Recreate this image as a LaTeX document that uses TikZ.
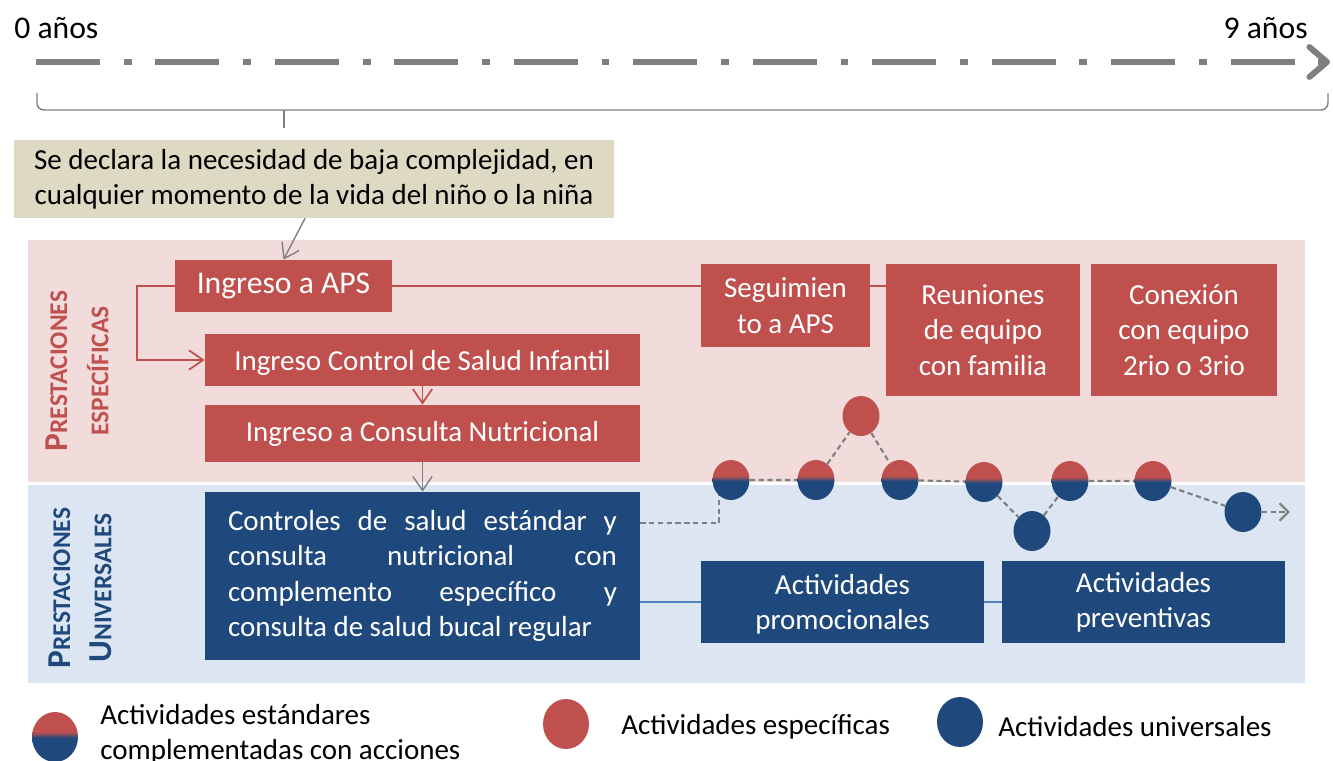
\documentclass[tikz,border=0pt]{standalone}
\usepackage{fontspec}
\setmainfont{Carlito}
\usetikzlibrary{arrows.meta,positioning,backgrounds,shapes.geometric}
\definecolor{espc}{HTML}{C0504D}
\definecolor{univc}{HTML}{1F497D}
\definecolor{espbg}{HTML}{F2DCDB}
\definecolor{univbg}{HTML}{DCE6F2}
\definecolor{notec}{HTML}{DDD9C3}
\definecolor{timec}{HTML}{7F7F7F}
\definecolor{linkc}{HTML}{4F81BD}
\pgfdeclareverticalshading{mixshade}{100bp}{color(0bp)=(univc); color(49bp)=(univc); color(55bp)=(espc); color(100bp)=(espc)}
\newcommand{\fsmain}{\fontsize{16.5}{20.1}\selectfont}
\newcommand{\fsbig}{\fontsize{18}{22}\selectfont}
\newcommand{\jline}[1]{\makebox[7.78cm][s]{#1}}
\newcommand{\smcap}[2]{{\fontsize{19}{23.5}\selectfont #1}#2}

\begin{document}
\begin{tikzpicture}[x=0.02cm, y=-0.02cm,
  espbox/.style={fill=espc, text=white, font=\fsmain, inner sep=0pt, align=center},
  univbox/.style={fill=univc, text=white, font=\fsmain, inner sep=0pt, align=center},
  mixdot/.style={ellipse, shading=mixshade, minimum width=0.74cm, minimum height=0.8cm, inner sep=0pt},
  espdot/.style={ellipse, fill=espc, minimum width=0.74cm, minimum height=0.8cm, inner sep=0pt},
  univdot/.style={ellipse, fill=univc, minimum width=0.74cm, minimum height=0.8cm, inner sep=0pt},
  lbl/.style={rotate=90, font=\bfseries\fontsize{14.5}{23.5}\selectfont, align=center, inner sep=0pt},
  espline/.style={espc, line width=1pt},
  esparr/.style={espline, -{Straight Barb[length=8pt,width=11pt]}},
  grayarr/.style={timec, line width=0.8pt, -{Straight Barb[length=8pt,width=11pt]}},
  univline/.style={linkc, line width=1.2pt},
  dashc/.style={timec, line width=1.2pt, dash pattern=on 3pt off 2pt}]
  \useasboundingbox (0,0) rectangle (1333,761);
  \begin{scope}[on background layer]
    \fill[espbg] (28,240) rectangle (1305,482);
    \fill[univbg] (28,485) rectangle (1305,683);
  \end{scope}
  % timeline
  \node[font=\fsbig, anchor=west, inner sep=0pt] (age0) at (14,28) {0 años};
  \node[font=\fsbig, anchor=east, inner sep=0pt] (age9) at (1308,28) {9 años};
  \coordinate (tstart) at (36,62);
  \coordinate (tend) at (1330,62);
  \draw[timec, line width=3.4pt, dash pattern=on 36.3pt off 13.6pt on 4.5pt off 13.6pt,
    -{Straight Barb[length=10pt,width=17pt,round]}] (tstart) -- (tend);
  \draw[timec, line width=0.8pt, rounded corners=4pt] (37,93) -- (37,110) -- (1328,110) -- (1328,93);
  \draw[timec, line width=0.8pt] (284,110) -- (284,128);
  \node[fill=notec, font=\fsmain, align=center, inner sep=0pt, minimum width=12cm, minimum height=1.56cm]
    (note) at (314,179) {Se declara la necesidad de baja complejidad, en\\cualquier momento de la vida del niño o la niña};
  % lane labels
  \node[lbl, text=espc] (lblesp) at (77,371) {\smcap{P}{RESTACIONES}\\ESPECÍFICAS};
  \node[lbl, text=univc] (lbluni) at (80,588) {\smcap{P}{RESTACIONES}\\\smcap{U}{NIVERSALES}};
  % specific boxes
  \node[espbox, font=\fsbig, minimum width=4.34cm, minimum height=1.04cm] (aps) at (283.5,286) {Ingreso a APS};
  \node[espbox, text depth=0pt, minimum width=8.7cm, minimum height=1.04cm] (ctrl) at (422.5,360) {Ingreso Control de Salud Infantil};
  \node[espbox, minimum width=8.7cm, minimum height=1.14cm] (cons) at (422.5,433.5) {Ingreso a Consulta Nutricional};
  \node[espbox, minimum width=3.38cm, minimum height=1.66cm] (seg) at (785.5,305.5) {Seguimien\\to a APS};
  \node[espbox, minimum width=3.88cm, minimum height=2.64cm] (reu) at (983,330) {Reuniones\\de equipo\\con familia};
  \node[espbox, minimum width=3.72cm, minimum height=2.64cm] (con) at (1184,330) {Conexión\\con equipo\\2rio o 3rio};
  % universal boxes
  \node[univbox, align=left, minimum width=8.7cm, minimum height=3.36cm] (ctrlsal) at (422.5,576)
    {\jline{Controles de salud estándar y}\\\jline{consulta nutricional con}\\\jline{complemento específico y}\\consulta de salud bucal regular};
  \node[univbox, text depth=0pt, minimum width=5.66cm, minimum height=1.64cm] (prom) at (842.5,602) {Actividades\\promocionales};
  \node[univbox, minimum width=5.66cm, minimum height=1.64cm] (prev) at (1143.5,602) {Actividades\\preventivas};
  % activity dots
  \node[mixdot] (c1) at (731,480) {};
  \node[mixdot] (c2) at (816,480) {};
  \node[espdot] (r1) at (861,416) {};
  \node[mixdot] (c3) at (900,480) {};
  \node[mixdot] (c4) at (984,482) {};
  \node[univdot] (b1) at (1032,531) {};
  \node[mixdot] (c5) at (1070,481) {};
  \node[mixdot] (c6) at (1153,481) {};
  \node[univdot] (b2) at (1243,512) {};
  \coordinate (dstart) at ([yshift=1.06cm]ctrlsal.east);
  \coordinate (dend) at ([xshift=0.56cm]b2.east);
  % legend
  \node[mixdot, minimum width=0.92cm, minimum height=1cm] (legmix) at (55,737) {};
  \node[font=\fsmain, anchor=west, align=left, inner sep=0pt] (legmixt) at (100,734) {Actividades estándares\\complementadas con acciones};
  \node[espdot, minimum width=0.92cm, minimum height=1cm] (legesp) at (566,724) {};
  \node[font=\fsmain, anchor=west, inner sep=0pt] (legespt) at (621,727) {Actividades específicas};
  \node[univdot, minimum width=0.92cm, minimum height=1cm] (leguni) at (960,722) {};
  \node[font=\fsmain, anchor=west, inner sep=0pt] (legunit) at (998,727) {Actividades universales};
  \begin{scope}[on background layer]
    \draw[grayarr] ([xshift=-0.18cm]note.south) -- (aps.north);
    \draw[espline] (aps.east) -- (aps.east -| seg.west);
    \draw[espline] (seg.east |- aps.east) -- (aps.east -| reu.west);
    \draw[esparr] (aps.west) -- ++(-38,0) |- (ctrl.west);
    \draw[esparr] (ctrl.south) -- (cons.north);
    \draw[grayarr] (cons.south) -- (ctrlsal.north);
    \draw[univline] (prom.west -| ctrlsal.east) -- (prom.west);
    \draw[univline] (prom.east) -- (prev.west);
    \draw[dashc] (dstart) -| ([xshift=-0.24cm]c1.center);
    \draw[dashc] (c1) -- (c2) -- (r1) -- (c3) -- (c4) -- (b1) -- (c5) -- (c6) -- (b2);
    \draw[dashc, -{Straight Barb[length=5pt,width=10pt]}] (b2) -- (dend);
  \end{scope}
\end{tikzpicture}
\end{document}
